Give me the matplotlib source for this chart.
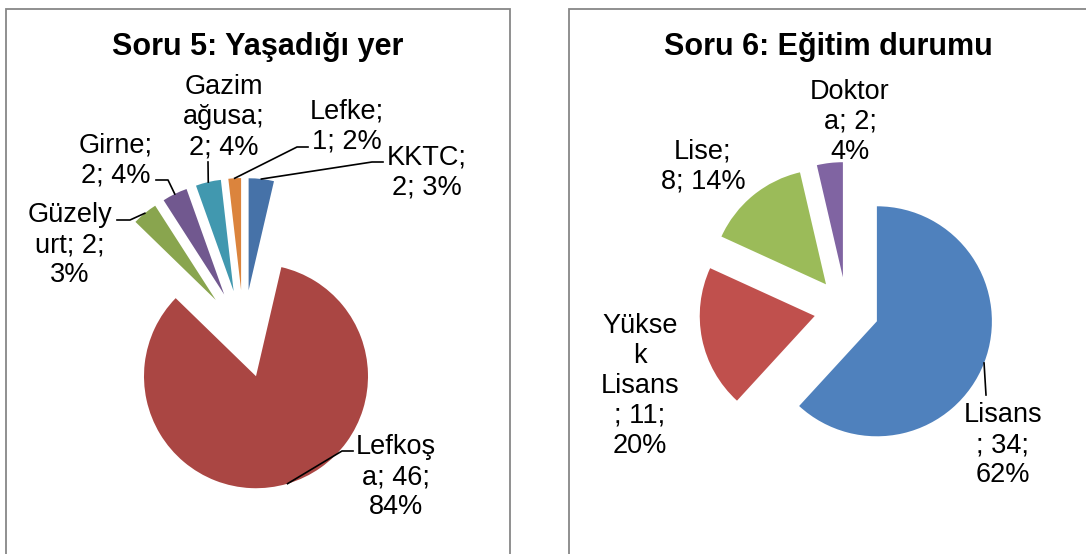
import numpy as np
import matplotlib.pyplot as plt
from matplotlib.patches import Rectangle

plt.rcParams['font.family'] = ['Liberation Sans', 'DejaVu Sans']

# Soru 5 data
q5_title = 'Soru 5: Yaşadığı yer'
q5_names = ['KKTC', 'Lefkoşa', 'Güzelyurt', 'Girne', 'Gazimağusa', 'Lefke']
q5_counts = [2, 46, 2, 2, 2, 1]
q5_pcts = [3, 84, 3, 4, 4, 2]
q5_labels = ['KKTC;\n2; 3%', 'Lefkoş\na; 46;\n84%', 'Güzely\nurt; 2;\n3%',
             'Girne;\n2; 4%', 'Gazim\nağusa;\n2; 4%', 'Lefke;\n1; 2%']
q5_colors = ['#4672A8', '#AA4643', '#89A54E', '#71588F', '#4198AF', '#DB843D']

# Soru 6 data
q6_title = 'Soru 6: Eğitim durumu'
q6_names = ['Lisans', 'Yüksek Lisans', 'Lise', 'Doktora']
q6_counts = [34, 11, 8, 2]
q6_pcts = [62, 20, 14, 4]
q6_labels = ['Lisans\n; 34;\n62%', 'Yükse\nk\nLisans\n; 11;\n20%', 'Lise;\n8; 14%', 'Doktor\na; 2;\n4%']
q6_colors = ['#4F81BD', '#C0504D', '#9BBB59', '#8064A2']

W, H = 1086, 554
fig = plt.figure(figsize=(W / 100, H / 100), dpi=100)
ax = fig.add_axes([0, 0, 1, 1])


def Y(v):
    # screen pixel (top-down) to data y
    return H - v


def draw_pie(vals, colors, labels, cx, cy, r, expl, label_pos, leaders):
    ax.pie(vals, colors=colors, startangle=90, counterclock=False,
           center=(cx, Y(cy)), radius=r, explode=[expl] * len(vals),
           wedgeprops=dict(linewidth=0))
    fr = np.array(vals) / np.sum(vals)
    mids = (np.cumsum(fr) - fr / 2) * 2 * np.pi  # clockwise from top
    for i, lab in enumerate(labels):
        tx, ty = label_pos[i]
        ax.text(tx, Y(ty), lab, ha='center', va='center', multialignment='center',
                fontsize=19.5, linespacing=1.2)
        if leaders[i] is not None:
            ax_pt = cx + (expl + r) * np.sin(mids[i])
            ay_pt = cy - (expl + r) * np.cos(mids[i])
            pts = list(leaders[i]) + [(ax_pt, ay_pt)]
            ax.plot([p[0] for p in pts], [Y(p[1]) for p in pts], color='black', lw=1.2)


# left chart
draw_pie(q5_counts, q5_colors, q5_labels, 243.6, 334, 112, 44,
         [(427, 172), (396, 477), (70, 245), (116, 161), (224, 117), (347, 126)],
         [[(383, 162), (372, 162)], [(353, 451), (342, 451)], [(117, 220), (130, 220)],
          [(156, 180), (168, 180)], [(208, 162)], [(308, 147), (297, 147)]])

# right chart
draw_pie(q6_counts, q6_colors, q6_labels, 846.6, 309.5, 115, 32.5,
         [(1003, 445), (640, 386), (703, 167), (850, 122)],
         [[(986, 395)], None, None, None])

ax.text(258, Y(47), q5_title, ha='center', va='center', fontsize=22, fontweight='bold')
ax.text(828, Y(47), q6_title, ha='center', va='center', fontsize=22, fontweight='bold')

# chart area borders
ax.add_patch(Rectangle((6, Y(560)), 504, 551, fill=False, edgecolor='#878787', lw=1.3))
ax.add_patch(Rectangle((569, Y(560)), 530, 551, fill=False, edgecolor='#878787', lw=1.3))

ax.set_xlim(0, W)
ax.set_ylim(0, H)
ax.set_aspect('auto')
ax.axis('off')

fig.savefig('out.png', dpi=100)
